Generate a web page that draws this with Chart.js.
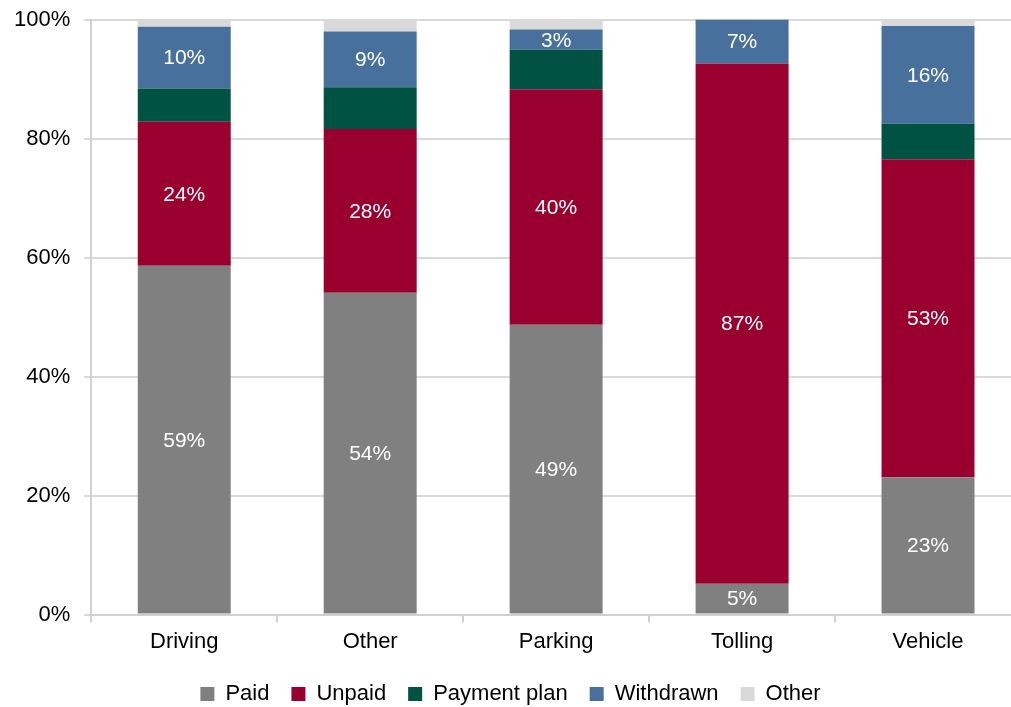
<!DOCTYPE html>
<html>
<head>
<meta charset="utf-8">
<script src="https://cdn.jsdelivr.net/npm/chart.js@4/dist/chart.umd.min.js"></script>
<style>
  html, body { margin: 0; padding: 0; background: #fff; overflow: hidden; }
  #wrap { width: 1011px; height: 707px; overflow: hidden; position: relative; }
  #box { width: 1044px; height: 707px; position: absolute; left: 0; top: 0; }
</style>
</head>
<body>
<div id="wrap"><div id="box"><canvas id="c"></canvas></div></div>
<script>
const categories = ["Driving", "Other", "Parking", "Tolling", "Vehicle"];
const seriesNames = ["Paid", "Unpaid", "Payment plan", "Withdrawn", "Other"];
const paid        = [58.6, 54.1, 48.7, 5.2, 23.1];
const unpaid      = [24.2, 27.5, 39.6, 87.4, 53.4];
const paymentPlan = [5.6, 7.0, 6.6, 0, 6.0];
const withdrawn   = [10.4, 9.4, 3.4, 7.4, 16.4];
const other       = [1.2, 2.0, 1.7, 0, 1.1];
const yTicks      = [0, 20, 40, 60, 80, 100];
const labelledSeries = ["Paid", "Unpaid", "Withdrawn"];

const colors = ["#808080", "#990030", "#005242", "#48709C", "#D9D9D9"];
const values = [paid, unpaid, paymentPlan, withdrawn, other];

const FONT = "'Liberation Sans', Arial, sans-serif";

const segLabels = {
  id: "segLabels",
  afterDatasetsDraw(chart) {
    const ctx = chart.ctx;
    ctx.save();
    ctx.font = "21px " + FONT;
    ctx.fillStyle = "#ffffff";
    ctx.textAlign = "center";
    ctx.textBaseline = "middle";
    chart.data.datasets.forEach((ds, i) => {
      if (!labelledSeries.includes(ds.label)) return;
      const meta = chart.getDatasetMeta(i);
      meta.data.forEach((el, j) => {
        const v = ds.data[j];
        if (!v) return;
        const y = (el.y + el.base) / 2;
        ctx.fillText(Math.round(v) + "%", el.x, y + 1);
      });
    });
    ctx.restore();
  }
};

new Chart(document.getElementById("c"), {
  type: "bar",
  data: {
    labels: categories,
    datasets: seriesNames.map((n, i) => ({
      label: n,
      data: values[i],
      backgroundColor: colors[i],
      borderWidth: 0,
      barPercentage: 0.5,
      categoryPercentage: 1.0
    }))
  },
  options: {
    responsive: true,
    maintainAspectRatio: false,
    animation: false,
    layout: { padding: { left: 0, right: 23, top: 19, bottom: -8 } },
    plugins: {
      tooltip: { enabled: false },
      legend: {
        position: "bottom",
        labels: {
          font: { family: FONT, size: 22 },
          color: "#000",
          boxWidth: 14,
          boxHeight: 14,
          padding: 22
        }
      }
    },
    scales: {
      x: {
        stacked: true,
        grid: {
          offset: true,
          drawOnChartArea: false,
          drawTicks: true,
          tickLength: 8,
          color: "#d0d0d0",
          lineWidth: 2
        },
        border: { color: "#d0d0d0", width: 2 },
        ticks: { font: { family: FONT, size: 22 }, color: "#000", padding: 6 }
      },
      y: {
        stacked: true,
        min: 0,
        max: 100,
        afterBuildTicks(axis) { axis.ticks = yTicks.map(v => ({ value: v })); },
        grid: { color: "#d9d9d9", lineWidth: 2, tickLength: 7 },
        border: { color: "#d0d0d0", width: 2 },
        ticks: {
          font: { family: FONT, size: 22, lineHeight: 0.5 },
          color: "#000",
          padding: 14,
          callback: v => v + "%"
        }
      }
    }
  },
  plugins: [segLabels]
});
</script>
</body>
</html>
